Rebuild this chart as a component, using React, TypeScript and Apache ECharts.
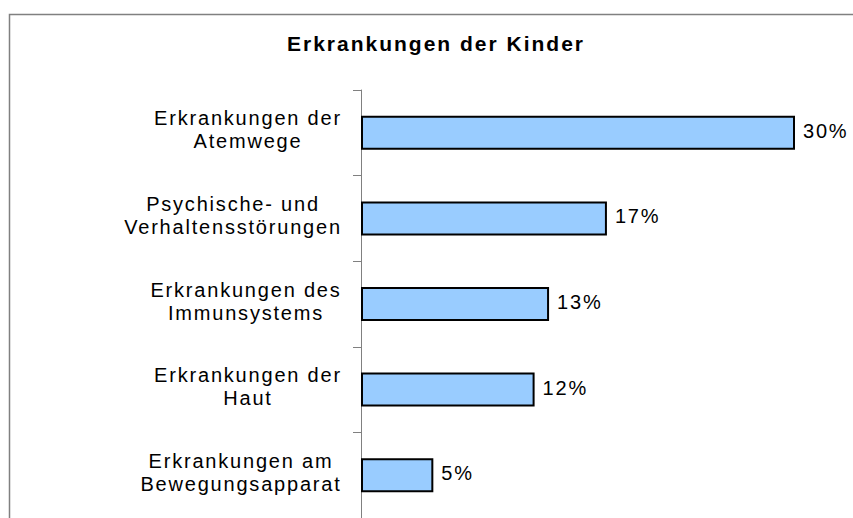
import React, { useEffect, useRef } from 'react';
import * as echarts from 'echarts';

const titleText = 'Erkrankungen der Kinder';
const categories = [
  'Erkrankungen der\nAtemwege',
  'Psychische- und\nVerhaltensstörungen',
  'Erkrankungen des\nImmunsystems',
  'Erkrankungen der\nHaut',
  'Erkrankungen am\nBewegungsapparat',
];
const values = [30, 17, 13, 12, 5];
const valueSuffix = '%';

const FAMILY = '"Liberation Sans", Arial, Helvetica, sans-serif';
const LABEL_SIZE = 20;
const LABEL_SPACING = 1.8;
const VALUE_SPACING = 1.8;
const TITLE_SPACING = 2;

function measure(text: string, font: string): number {
  const ctx = document.createElement('canvas').getContext('2d');
  if (!ctx) return text.length * 10;
  ctx.font = font;
  return ctx.measureText(text).width;
}

export default function App() {
  const ref = useRef<HTMLDivElement>(null);

  useEffect(() => {
    document.body.style.margin = '0';
    if (!ref.current) return;
    const chart = echarts.init(ref.current, undefined, { renderer: 'svg' });

    const labelFont = `${LABEL_SIZE}px ${FAMILY}`;
    const rich: Record<string, any> = {};
    const lineSet = new Set<string>();
    categories.forEach((c, i) => {
      const lines = c.split('\n');
      lines.forEach((l) => lineSet.add(l));
      const w = Math.max(
        ...lines.map((l) => measure(l, labelFont) + (l.length - 1) * LABEL_SPACING)
      );
      rich['c' + i] = {
        width: Math.ceil(w),
        align: 'center',
        fontSize: LABEL_SIZE,
        fontFamily: FAMILY,
        lineHeight: 23,
        color: '#000',
      };
    });

    chart.setOption({
      animation: false,
      backgroundColor: '#fff',
      graphic: [
        {
          type: 'rect',
          shape: { x: 9.5, y: 14.5, width: 1000, height: 1000 },
          style: { fill: 'none', stroke: '#808080', lineWidth: 1.5 },
          silent: true,
        },
        {
          type: 'text',
          x: 436,
          y: 43,
          style: {
            text: titleText,
            fontSize: 21,
            fontWeight: 'bold',
            fontFamily: FAMILY,
            fill: '#000',
            align: 'center',
            verticalAlign: 'middle',
          },
          silent: true,
        },
      ],
      grid: { left: 361, top: 90, width: 434, height: 430 },
      xAxis: {
        type: 'value',
        min: 0,
        max: 30,
        show: false,
      },
      yAxis: {
        type: 'category',
        inverse: true,
        data: categories,
        axisLine: { show: true, lineStyle: { color: '#808080', width: 1 } },
        axisTick: { show: true, length: 8, lineStyle: { color: '#808080', width: 1 } },
        splitLine: { show: false },
        axisLabel: {
          margin: 20,
          padding: [0, 0, 6, 0],
          formatter: (value: string, index: number) =>
            value
              .split('\n')
              .map((l) => `{c${index}|${l}}`)
              .join('\n'),
          rich,
        },
      },
      series: [
        {
          type: 'bar',
          data: values,
          barWidth: 34,
          itemStyle: { color: '#99CCFF', borderColor: '#000', borderWidth: 2 },
          label: {
            show: true,
            position: 'right',
            distance: 8,
            offset: [0, -2],
            formatter: (p: any) => `${p.value}${valueSuffix}`,
            fontSize: 20,
            fontFamily: FAMILY,
            color: '#000',
          },
        },
      ],
    });

    const applySpacing = () => {
      const root = ref.current;
      if (!root) return;
      root.querySelectorAll('text').forEach((t) => {
        const s = (t.textContent || '').trim();
        if (s === titleText) t.style.letterSpacing = TITLE_SPACING + 'px';
        else if (lineSet.has(s)) t.style.letterSpacing = LABEL_SPACING + 'px';
        else if (/^\d+%$/.test(s)) t.style.letterSpacing = VALUE_SPACING + 'px';
      });
    };
    applySpacing();
    chart.on('finished', applySpacing);
    const raf = requestAnimationFrame(applySpacing);
    const tm = setTimeout(applySpacing, 50);

    return () => {
      cancelAnimationFrame(raf);
      clearTimeout(tm);
      chart.dispose();
    };
  }, []);

  return (
    <div
      ref={ref}
      style={{ position: 'absolute', left: 0, top: 0, width: 853, height: 518 }}
    />
  );
}
